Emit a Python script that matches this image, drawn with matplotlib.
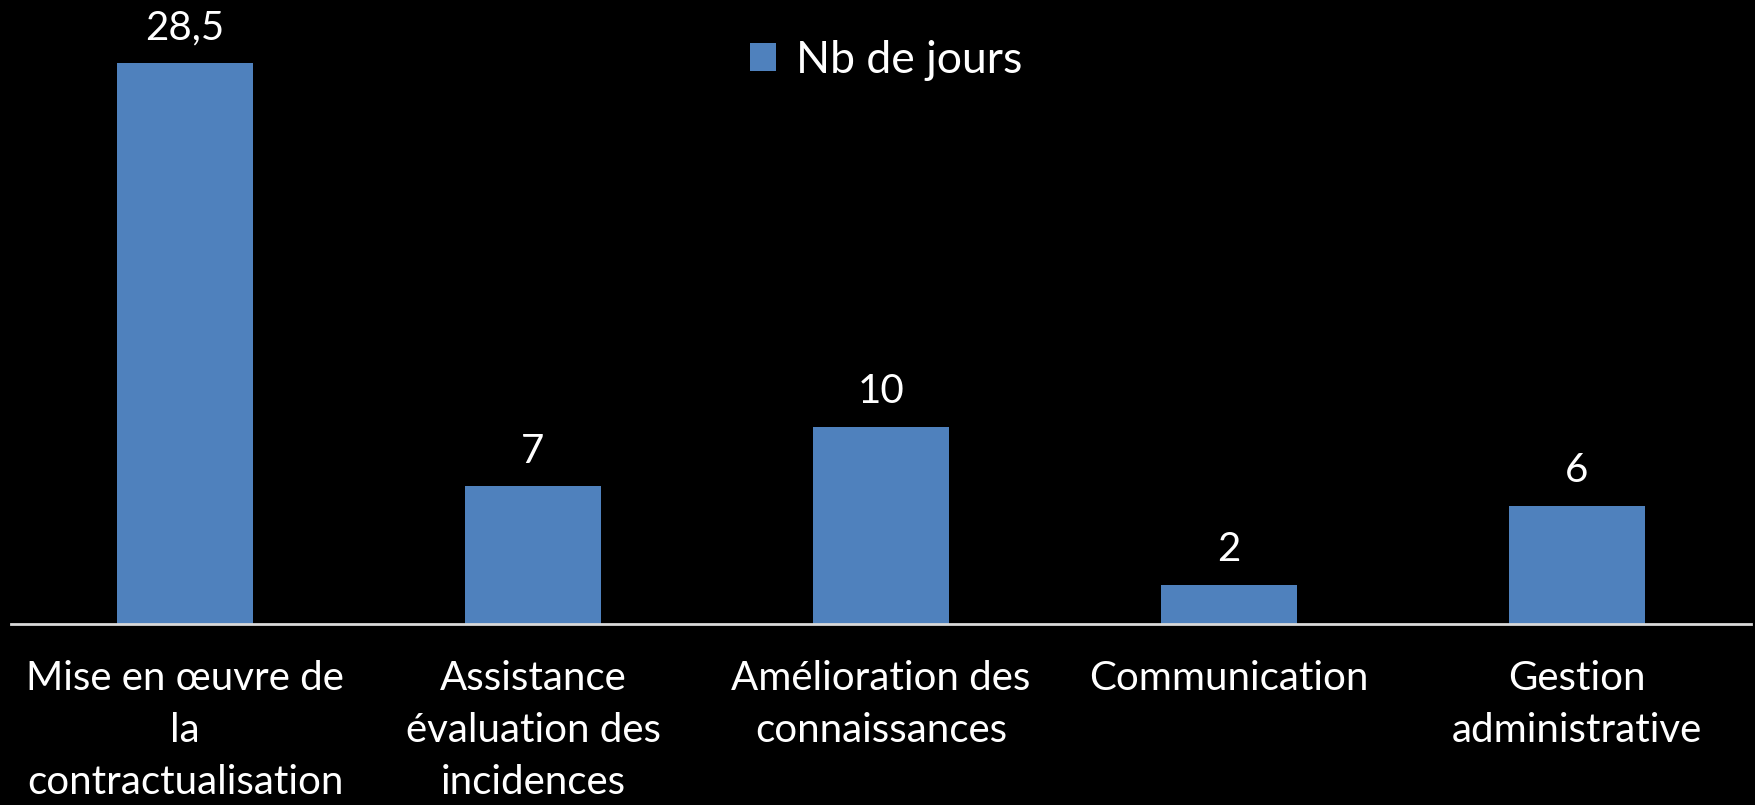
import matplotlib
matplotlib.use("Agg")
import matplotlib.pyplot as plt

categories = ["Mise en œuvre de\nla\ncontractualisation",
              "Assistance\névaluation des\nincidences",
              "Amélioration des\nconnaissances",
              "Communication",
              "Gestion\nadministrative"]
values = [28.5, 7, 10, 2, 6]
value_labels = ["28,5", "7", "10", "2", "6"]
series_name = "Nb de jours"

plt.rcParams['font.family'] = ['Lato', 'DejaVu Sans']

fig = plt.figure(figsize=(17.56, 8.05), dpi=100, facecolor='black')
ax = fig.add_axes([11/1756, (805-624)/805, 1740/1756, 624/805])
ax.set_facecolor('black')

x = list(range(len(categories)))
bars = ax.bar(x, values, width=0.39, color='#4F81BD', label=series_name, zorder=2)
ax.bar_label(bars, labels=value_labels, padding=12, color='white', fontsize=29)

ax.set_xlim(-0.5, len(categories) - 0.5)
ax.set_ylim(0, 28.5 * 624 / 561)
ax.set_xticks(x)
ax.set_xticklabels(categories, color='white', fontsize=29, linespacing=1.5, va='top')
ax.tick_params(axis='x', length=0, pad=26)
ax.set_yticks([])
for s in ['top', 'right', 'left']:
    ax.spines[s].set_visible(False)
ax.spines['bottom'].set_color('#D9D9D9')
ax.spines['bottom'].set_linewidth(2)

leg = ax.legend(loc='upper center', bbox_to_anchor=(0.503, 1.0), frameon=False,
                fontsize=32, labelcolor='white', handlelength=0.6, handleheight=0.6,
                handletextpad=0.45, borderaxespad=0.5)

fig.savefig('out.png', dpi=100, facecolor='black')
